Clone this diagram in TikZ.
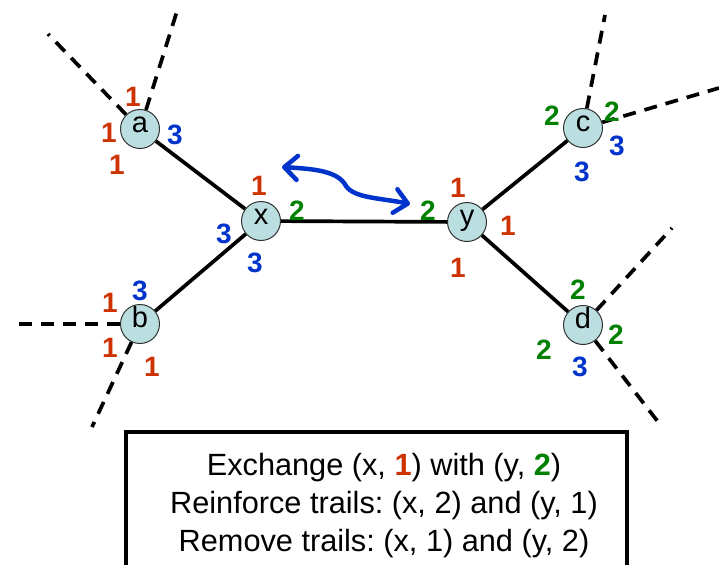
\documentclass[tikz,border=0pt]{standalone}
\usepackage{fontspec}
\setmainfont{Liberation Sans}
\usetikzlibrary{arrows.meta}
\definecolor{cred}{RGB}{204,51,0}
\definecolor{cgreen}{RGB}{0,128,0}
\definecolor{cblue}{RGB}{0,51,204}
\definecolor{cnode}{RGB}{187,223,225}
\frenchspacing
\begin{document}
\begin{tikzpicture}[x=1pt,y=-1pt,
  vert/.style={circle,draw=black!80,line width=1pt,fill=cnode,minimum size=39pt,inner sep=0pt,
    font=\fontsize{29}{32}\selectfont,text height=1.4ex,text depth=0pt},
  edge/.style={line width=3.7pt},
  dedge/.style={line width=3.7pt,dash pattern=on 13pt off 9pt},
  lab/.style={font=\fontsize{28}{30}\selectfont\bfseries,inner sep=0pt},
  labr/.style={lab,text=cred},
  labg/.style={lab,text=cgreen},
  labb/.style={lab,text=cblue},
  swap/.style={line width=4.5pt,draw=cblue,line cap=round,
    {Straight Barb[length=13pt,width=24pt,line join=round,line cap=round]}-{Straight Barb[length=13pt,width=24pt,line join=round,line cap=round]}}]
\clip (0,0) rectangle (719,564);
% free ends of dashed edges
\coordinate (a1) at (48,34);
\coordinate (a2) at (178,8);
\coordinate (b1) at (10,324);
\coordinate (b2) at (92,427);
\coordinate (c1) at (605,15);
\coordinate (c2) at (719,88);
\coordinate (d1) at (672,228);
\coordinate (d2) at (662,427);
\coordinate (s1) at (282,167);
\coordinate (s2) at (410,204);
% edges (drawn first, under the vertices)
\coordinate (pa) at (140,129);
\coordinate (px) at (261,221);
\coordinate (pb) at (140,324);
\coordinate (py) at (467,222);
\coordinate (pc) at (583,128);
\coordinate (pd) at (583,325);
% vertices
\node[vert] (a) at (pa) {a};
\node[vert] (x) at (px) {x};
\node[vert] (b) at (pb) {b};
\node[vert] (y) at (py) {y};
\node[vert] (c) at (pc) {c};
\node[vert] (d) at (pd) {d};
\draw[edge] (a) -- (x);
\draw[edge] (x) -- (b);
\draw[edge] (x) -- (y);
\draw[edge] (y) -- (c);
\draw[edge] (y) -- (d);
\draw[dedge] (a) -- (a1);
\draw[dedge] (a) -- (a2);
\draw[dedge] (b) -- (b1);
\draw[dedge] (b) -- (b2);
\draw[dedge] (c) -- (c1);
\draw[dedge] (c) -- (c2);
\draw[dedge] (d) -- (d1);
\draw[dedge] (d) -- (d2);
% swap arrow
\draw[swap] (s1) .. controls (315,169) and (338,171) .. (346,186) .. controls (354,198) and (380,198) .. (s2);
% labels a
\node[labr] (la1) at (133,97) {1};
\node[labr] (la2) at (109,133) {1};
\node[labr] (la3) at (117,165) {1};
\node[labb] (la4) at (175,135) {3};
% labels x
\node[labr] (lx1) at (259,186) {1};
\node[labg] (lx2) at (297,211) {2};
\node[labb] (lx3) at (224,234) {3};
\node[labb] (lx4) at (255,263) {3};
% labels y
\node[labr] (ly1) at (458,188) {1};
\node[labg] (ly2) at (428,211) {2};
\node[labr] (ly3) at (508,226) {1};
\node[labr] (ly4) at (458,268) {1};
% labels b
\node[labb] (lb1) at (140,291) {3};
\node[labr] (lb2) at (110,303) {1};
\node[labr] (lb3) at (110,348) {1};
\node[labr] (lb4) at (152,367) {1};
% labels c
\node[labg] (lc1) at (552,116) {2};
\node[labg] (lc2) at (612,112) {2};
\node[labb] (lc3) at (617,146) {3};
\node[labb] (lc4) at (582,172) {3};
% labels d
\node[labg] (ld1) at (578,290) {2};
\node[labg] (ld2) at (616,335) {2};
\node[labg] (ld3) at (544,350) {2};
\node[labb] (ld4) at (580,367) {3};
% text box
\draw[line width=3.5pt] (126,432) rectangle (627,600);
\node[align=center,font=\fontsize{30.7}{38}\selectfont,inner sep=0pt] (txt) at (384,506)
  {Exchange (x, \textcolor{cred}{\bfseries 1}) with (y, \textcolor{cgreen}{\bfseries 2})\\
   Reinforce trails: (x, 2) and (y, 1)\\
   Remove trails: (x, 1) and (y, 2)};
\end{tikzpicture}
\end{document}
